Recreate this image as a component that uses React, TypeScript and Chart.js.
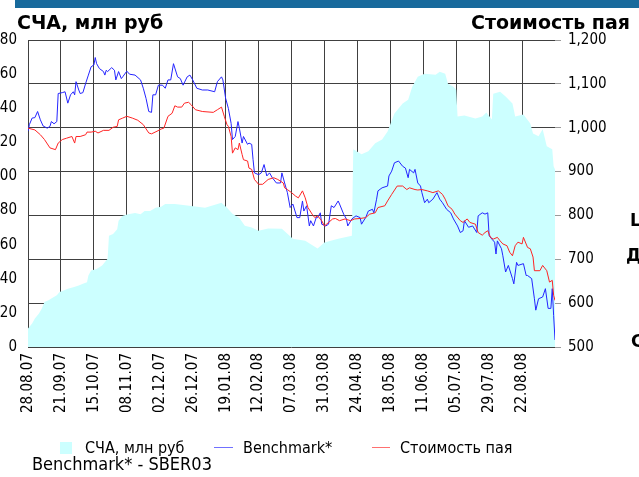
import React, { useEffect, useRef } from 'react';
import { Chart, registerables } from 'chart.js';

Chart.register(...registerables);

// x tick labels (one every 24 days starting 28.08.07)
const xTickLabels = [
  '28.08.07', '21.09.07', '15.10.07', '08.11.07', '02.12.07', '26.12.07',
  '19.01.08', '12.02.08', '07.03.08', '31.03.08', '24.04.08', '18.05.08',
  '11.06.08', '05.07.08', '29.07.08', '22.08.08',
];

// СЧА, млн руб (left axis) — day offset from 28.08.07 and value
const navDays = [0,3,5,8,10,12,15,17,21,23,26,29,33,37,40,43,44,46,50,54,58,59,62,65,66,69,73,78,82,85,89,93,97,100,107,119,129,141,145,149,154,158,163,168,175,185,189,193,202,211,216,226,236,237,243,248,253,258,262,267,273,277,280,284,289,297,300,304,306,310,312,313,318,326,331,334,338,339,344,348,353,355,361,366,368,372,375,378,382,383,384];
const navValues = [10.9,13.8,16.7,19.6,22.5,26.4,27.4,28.4,30.3,32.2,33.2,34.2,35.1,36.1,37.1,38,41.9,44.9,45.8,47.8,51.7,65.2,66.2,69.1,74,76.9,77.9,78.5,77.9,79.8,79.8,81.7,82.3,83.9,83.9,82.7,81.7,84.6,81.7,78.1,75.7,71.1,70.1,68.2,69.5,69.3,66.4,63.5,62.3,57.7,61.2,63.5,65.2,115.9,113,114.8,119.4,121.7,126.4,136.9,142.7,145,152.6,158.4,160.2,159.6,161.4,160.2,154.4,152.6,150.9,135.1,135.7,134,135.1,137.5,133.4,148.5,149.7,146.8,142.7,135.1,136.3,131.1,125.2,123.5,127.6,117.7,115.9,106,104];

// Benchmark* (right axis)
const benchDays = [0,1,3,5,7,9,11,14,16,17,19,21,22,25,27,29,31,33,34,35,37,38,40,42,44,46,48,49,50,52,55,56,57,58,61,63,64,66,68,69,72,74,78,82,84,86,88,90,91,93,95,98,100,102,104,106,109,111,113,116,118,120,123,127,131,136,138,141,142,144,146,148,149,151,153,154,156,157,160,161,163,164,165,168,170,172,174,176,178,181,184,185,187,189,191,193,196,198,200,201,203,205,206,208,210,211,213,214,217,219,221,223,226,227,230,232,233,236,239,242,243,246,248,251,252,254,255,258,262,263,265,267,270,273,275,277,278,281,282,284,286,287,289,291,292,295,298,300,302,305,308,310,313,315,317,318,321,324,327,328,331,333,335,336,338,340,341,342,345,346,348,350,353,354,356,357,361,363,364,367,369,370,372,375,377,379,381,382,383,384];
const benchValues = [992,1007,1022,1023,1037,1018,1004,999,1003,1014,1009,1014,1078,1080,1082,1056,1075,1082,1075,1105,1086,1078,1080,1101,1120,1139,1143,1160,1146,1135,1128,1120,1131,1128,1137,1131,1109,1128,1112,1116,1129,1122,1120,1109,1090,1067,1037,1035,1075,1075,1097,1097,1090,1109,1109,1146,1116,1112,1097,1116,1120,1109,1090,1086,1086,1082,1105,1116,1109,1067,1044,1010,973,980,1014,999,965,980,962,965,962,927,897,893,897,916,890,897,886,874,874,897,874,852,818,826,795,795,833,810,822,776,788,776,795,795,806,780,776,780,822,818,833,826,803,792,776,792,799,795,780,795,810,814,806,837,856,863,867,890,901,920,924,912,908,886,905,897,905,874,867,852,829,837,829,837,852,837,829,814,806,792,776,761,765,788,773,776,761,799,806,803,806,754,746,739,712,742,724,708,671,686,656,644,693,686,690,663,663,656,610,584,610,614,633,588,588,633,572,516];

// Стоимость пая (right axis)
const unitDays = [0,5,9,12,16,20,22,25,28,32,34,35,38,42,43,46,49,51,55,59,62,65,66,69,72,76,80,84,88,90,94,97,99,102,105,107,109,112,114,117,119,122,127,135,138,141,143,145,146,148,149,151,153,154,156,157,160,161,163,165,168,171,175,179,182,186,187,189,192,195,197,200,202,204,207,209,211,214,216,219,222,224,227,231,235,238,242,246,249,253,255,260,262,265,269,273,276,278,282,284,287,291,295,299,302,304,306,309,311,315,317,320,322,326,328,331,333,335,337,339,342,344,346,349,351,353,355,357,360,361,364,366,368,369,373,375,378,380,382,383,384];
const unitValues = [999,995,984,973,954,950,965,973,976,980,965,980,980,984,990,990,992,988,994,994,1001,1003,1018,1022,1026,1022,1017,1007,988,986,992,997,999,1026,1033,1050,1047,1047,1056,1058,1052,1041,1037,1035,1041,1047,1026,1007,1003,980,942,954,950,965,939,927,924,908,905,882,871,871,882,886,882,874,863,859,852,844,840,856,840,818,803,795,799,788,776,784,792,793,788,792,788,792,793,795,803,806,818,822,833,848,867,867,859,863,859,858,859,856,852,856,848,837,822,814,803,788,784,792,784,780,761,755,761,765,750,746,750,742,735,731,716,708,731,739,735,750,727,724,705,674,674,686,674,648,652,618,606];

const seriesNames = ['СЧА, млн руб', 'Benchmark*', 'Стоимость пая'];

const TICK_FONT = "'DejaVu Sans Condensed', 'DejaVu Sans', sans-serif";
const AREA_COLOR = '#CCFFFF';
const BLUE = '#2424FF';
const RED = '#FF2424';
const GRID = '#404040';

export default function App() {
  const ref = useRef<HTMLCanvasElement>(null);

  useEffect(() => {
    const toPts = (d: number[], v: number[]) => d.map((x, i) => ({ x, y: v[i] }));
    const chart = new Chart(ref.current as HTMLCanvasElement, {
      type: 'line',
      data: {
        datasets: [
          {
            label: seriesNames[2],
            data: toPts(unitDays, unitValues),
            yAxisID: 'y1',
            borderColor: RED,
            borderWidth: 1,
            pointRadius: 0,
            fill: false,
            order: 0,
          },
          {
            label: seriesNames[1],
            data: toPts(benchDays, benchValues),
            yAxisID: 'y1',
            borderColor: BLUE,
            borderWidth: 1,
            pointRadius: 0,
            fill: false,
            order: 1,
          },
          {
            label: seriesNames[0],
            data: toPts(navDays, navValues),
            yAxisID: 'y',
            borderWidth: 0,
            borderColor: AREA_COLOR,
            backgroundColor: AREA_COLOR,
            pointRadius: 0,
            fill: 'origin',
            order: 2,
          },
        ],
      },
      options: {
        responsive: false,
        animation: false,
        devicePixelRatio: 1,
        layout: { padding: { top: 18, left: 0, right: 0, bottom: 0 } },
        plugins: { legend: { display: false }, tooltip: { enabled: false } },
        elements: { line: { tension: 0 } },
        scales: {
          x: {
            type: 'linear',
            min: 0,
            max: 384,
            afterFit: (s: any) => { s.height = 93; },
            border: { display: false },
            grid: {
              drawTicks: false,
              lineWidth: 1,
              color: (ctx: any) => (ctx.tick && ctx.tick.value >= 384 ? 'rgba(0,0,0,0)' : GRID),
            },
            ticks: {
              stepSize: 24,
              autoSkip: false,
              maxTicksLimit: 100,
              minRotation: 90,
              maxRotation: 90,
              padding: 6,
              color: '#000',
              font: { family: TICK_FONT, size: 15 },
              callback: (v: any) => xTickLabels[Math.round(Number(v) / 24)] ?? '',
            },
          },
          y: {
            type: 'linear',
            position: 'left',
            min: 0,
            max: 180,
            afterFit: (s: any) => { s.width = 48; },
            border: { display: false },
            grid: { display: false, drawTicks: false },
            ticks: {
              stepSize: 20,
              padding: 11,
              color: '#000',
              font: { family: TICK_FONT, size: 15 },
            },
          },
          y1: {
            type: 'linear',
            position: 'right',
            min: 500,
            max: 1200,
            afterFit: (s: any) => { s.width = 85; },
            border: { display: false },
            grid: { color: GRID, tickColor: '#9a9a9a', tickLength: 6, drawTicks: true },
            ticks: {
              stepSize: 100,
              padding: 7,
              color: '#000',
              font: { family: TICK_FONT, size: 15 },
              callback: (v: any) => Number(v).toLocaleString('en-US'),
            },
          },
        },
      },
    } as any);
    return () => chart.destroy();
  }, []);

  const abs = (s: React.CSSProperties): React.CSSProperties => ({ position: 'absolute', whiteSpace: 'nowrap', ...s });
  const boldTitle: React.CSSProperties = {
    fontFamily: "'DejaVu Sans', sans-serif",
    fontWeight: 'bold',
    fontSize: 19,
    lineHeight: '20px',
    color: '#000',
  };
  const legendText: React.CSSProperties = {
    fontFamily: TICK_FONT,
    fontSize: 16,
    lineHeight: '16px',
    color: '#000',
  };

  return (
    <div style={{ position: 'absolute', left: 0, top: 0, width: 639, height: 477, overflow: 'hidden', background: '#fff' }}>
      <canvas ref={ref} width={660} height={420} style={abs({ left: -20, top: 20, width: 660, height: 420 })} />
      <div style={abs({ left: 15, top: 0, width: 624, height: 8, background: '#186A9C' })} />
      <div style={abs({ left: 17, top: 12, ...boldTitle })}>СЧА, млн руб</div>
      <div style={abs({ right: 9, top: 12, ...boldTitle })}>Стоимость пая</div>
      <div style={abs({ left: 630, top: 210, ...boldTitle, fontSize: 17 })}>Ц</div>
      <div style={abs({ left: 626, top: 245, ...boldTitle, fontSize: 17 })}>Д</div>
      <div style={abs({ left: 631, top: 331, ...boldTitle, fontSize: 17 })}>С</div>
      <div style={abs({ left: 60, top: 442, width: 12, height: 12, background: AREA_COLOR })} />
      <div style={abs({ left: 85, top: 440, ...legendText })}>{seriesNames[0]}</div>
      <div style={abs({ left: 214, top: 447, width: 19, height: 1, background: '#7070ff' })} />
      <div style={abs({ left: 243, top: 440, ...legendText })}>{seriesNames[1]}</div>
      <div style={abs({ left: 372, top: 447, width: 18, height: 1, background: '#ff7070' })} />
      <div style={abs({ left: 400, top: 440, ...legendText })}>{seriesNames[2]}</div>
      <div style={abs({ left: 32, top: 455, fontFamily: TICK_FONT, fontSize: 18, lineHeight: '18px', color: '#000' })}>Benchmark* - SBER03</div>
    </div>
  );
}
